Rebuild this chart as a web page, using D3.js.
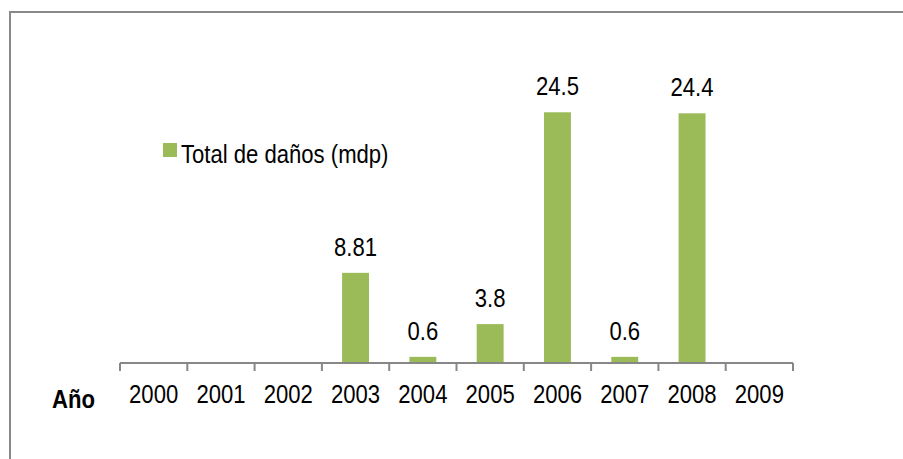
<!DOCTYPE html>
<html>
<head>
  <meta charset="utf-8">
  <script src="https://d3js.org/d3.v7.min.js"></script>
  <style>
    body { margin: 0; background: #fff; }
    svg text { font-family: "Liberation Sans Narrow", "Arial Narrow", "Liberation Sans", sans-serif; fill: #000; font-size: 26px; }
  </style>
</head>
<body>
  <svg id="chart" width="903" height="459"></svg>
  <script>
    // data
    var years = ["2000", "2001", "2002", "2003", "2004", "2005", "2006", "2007", "2008", "2009"];
    var damages = [null, null, null, 8.81, 0.6, 3.8, 24.5, 0.6, 24.4, null];
    var valueLabels = ["", "", "", "8.81", "0.6", "3.8", "24.5", "0.6", "24.4", ""];
    var seriesName = "Total de daños (mdp)";
    var axisTitle = "Año";

    var green = "#9bbb59";
    var narrow = 0.85; // no narrow font installed, squeeze the regular one
    var svg = d3.select("#chart");

    function place(sel, fx, fy) {
      return sel.attr("transform", function (d, i) {
        return "translate(" + fx(d, i) + "," + fy(d, i) + ") scale(" + narrow + ",1)";
      });
    }

    // outer frame (runs off the right/bottom edge like the screenshot)
    svg.append("rect")
      .attr("x", 10).attr("y", 12)
      .attr("width", 920).attr("height", 470)
      .attr("fill", "none")
      .attr("stroke", "#898989")
      .attr("stroke-width", 2);

    var x = d3.scaleBand().domain(years).range([120, 793]).paddingInner(0.6).paddingOuter(0.3);
    var y = d3.scaleLinear().domain([0, 30]).range([363, 56]);

    var rows = years.map(function (yr, i) { return { year: yr, v: damages[i], label: valueLabels[i] }; })
      .filter(function (d) { return d.v != null; });

    var g = svg.append("g");

    g.selectAll("rect.bar")
      .data(rows)
      .enter().append("rect")
      .attr("class", "bar")
      .attr("x", function (d) { return x(d.year); })
      .attr("width", x.bandwidth())
      .attr("y", function (d) { return y(d.v); })
      .attr("height", function (d) { return y(0) - y(d.v); })
      .attr("fill", green);

    place(g.selectAll("text.val")
      .data(rows)
      .enter().append("text")
      .attr("class", "val")
      .attr("text-anchor", "middle")
      .text(function (d) { return d.label; }),
      function (d) { return x(d.year) + x.bandwidth() / 2; },
      function (d) { return y(d.v) - 17; });

    // x axis: line with ticks between categories
    var axisG = svg.append("g").attr("transform", "translate(0,363)");
    var step = x.step();
    var edges = d3.range(years.length + 1).map(function (i) { return 120 + i * step; });
    axisG.append("line")
      .attr("x1", edges[0]).attr("x2", edges[edges.length - 1])
      .attr("stroke", "#878787").attr("stroke-width", 2);
    axisG.selectAll("line.tick")
      .data(edges).enter().append("line")
      .attr("class", "tick")
      .attr("x1", function (d) { return d; }).attr("x2", function (d) { return d; })
      .attr("y1", 0).attr("y2", 8)
      .attr("stroke", "#878787").attr("stroke-width", 2);
    place(axisG.selectAll("text.yr")
      .data(years).enter().append("text")
      .attr("class", "yr")
      .attr("text-anchor", "middle")
      .text(function (d) { return d; }),
      function (d) { return x(d) + x.bandwidth() / 2; },
      function () { return 40; });

    place(svg.append("text")
      .style("font-weight", "bold")
      .text(axisTitle),
      function () { return 52; }, function () { return 408; });

    // legend
    var leg = svg.append("g").attr("transform", "translate(163,143)");
    leg.append("rect").attr("width", 14).attr("height", 14).attr("fill", green);
    place(leg.append("text").text(seriesName),
      function () { return 18; }, function () { return 20; });
  </script>
</body>
</html>
